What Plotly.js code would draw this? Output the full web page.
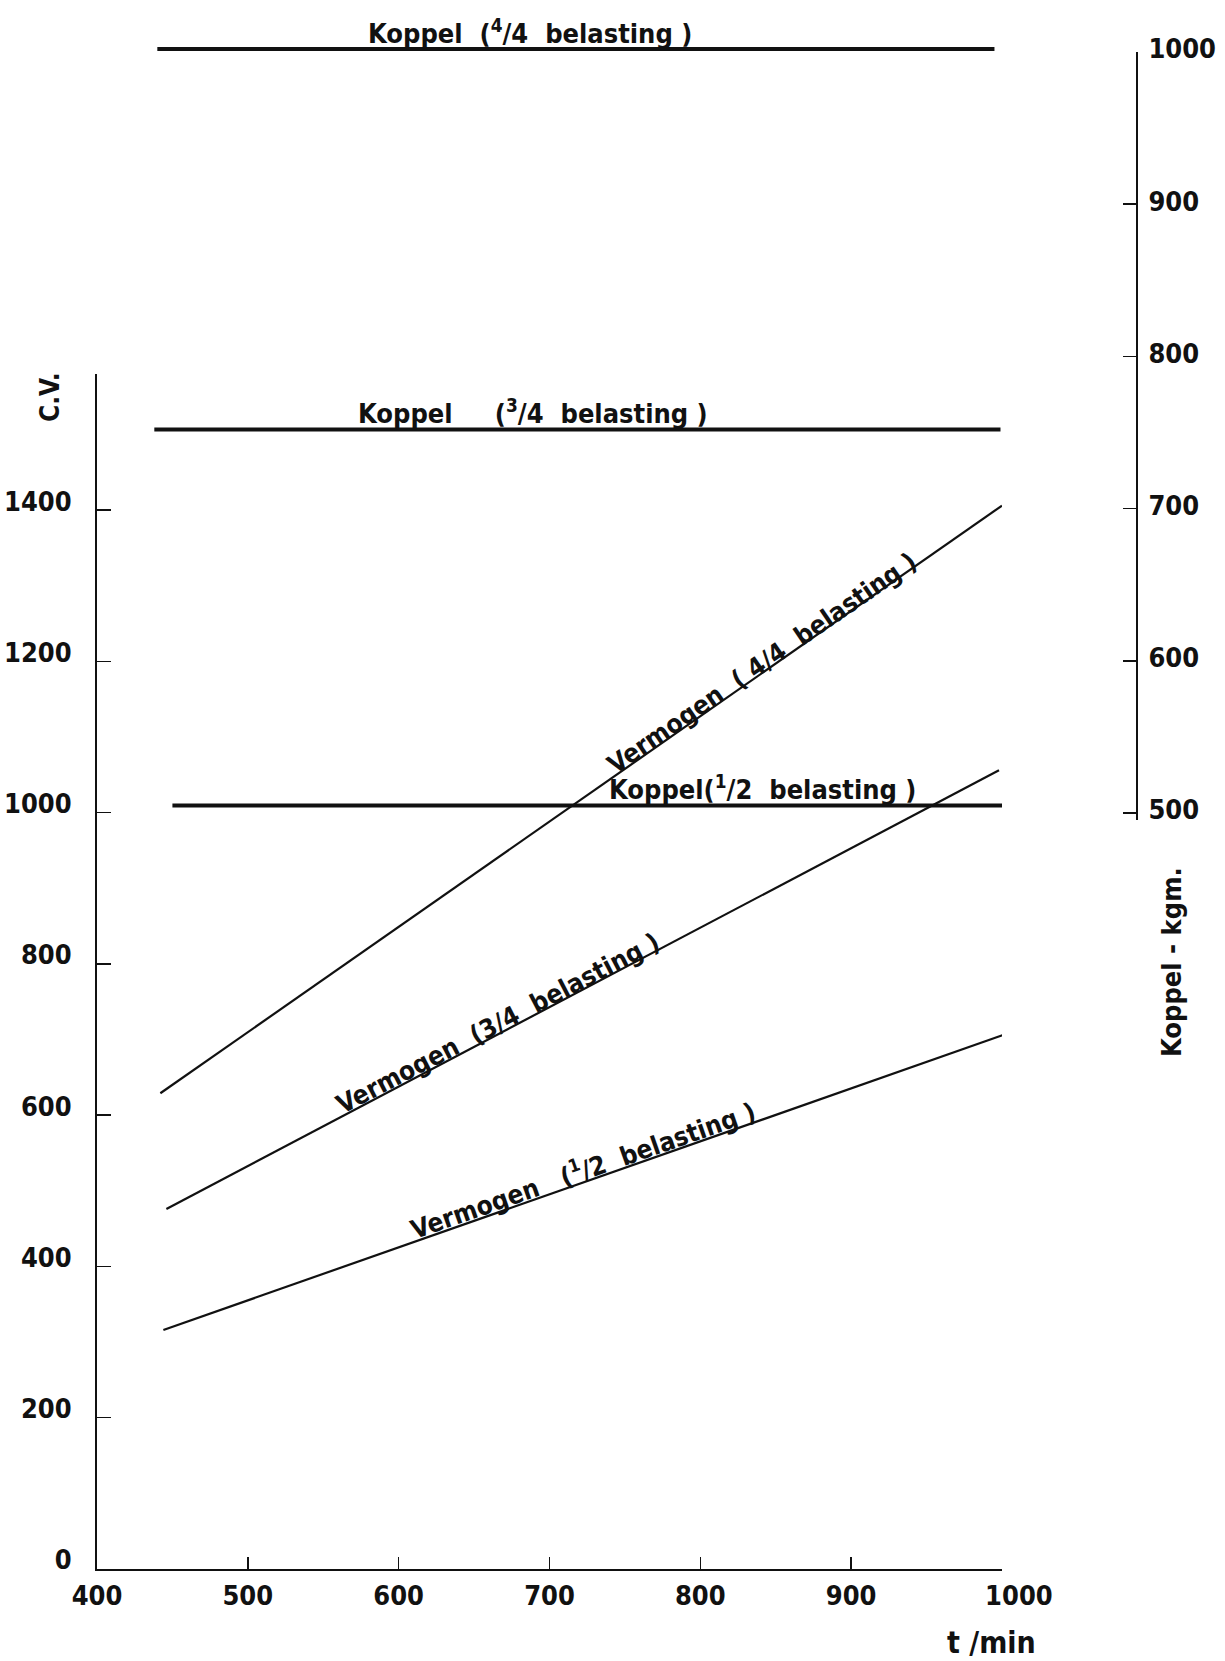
<!DOCTYPE html>
<html><head><meta charset="utf-8">
<script src="https://cdn.plot.ly/plotly-3.0.1.min.js"></script>
<style>html,body{margin:0;padding:0;background:#fff;} #chart{width:1225px;height:1661px;}</style>
</head><body><div id="chart"></div>
<script>
// ---- data ----
const rpmTicks = [400, 500, 600, 700, 800, 900, 1000];
const cvTicks = [0, 200, 400, 600, 800, 1000, 1200, 1400];
const kgmTicks = [500, 600, 700, 800, 900, 1000];

// Koppel (torque, kgm) – right scale
const koppel44Rpm = [440, 995];
const koppel44Kgm = [1002, 1002];
const koppel34Rpm = [438, 999];
const koppel34Kgm = [752, 752];
const koppel12Rpm = [450, 1000];
const koppel12Kgm = [505, 505];

// Vermogen (power, C.V.) – left scale
const verm44Rpm = [442, 1000];
const verm44Cv = [629, 1406];
const verm34Rpm = [446, 998];
const verm34Cv = [476, 1056];
const verm12Rpm = [444, 1005];
const verm12Cv = [316, 709];

// ---- geometry (pixels of the 1225x1661 page) ----
const W = 1225, H = 1661;
const L = 97, R = 1137, T = 40, B = 1569;
const pw = R - L, ph = B - T;
const px2x = p => (p - L) / pw;
const px2y = p => (B - p) / ph;

const FONT = '"DejaVu Sans Condensed", "DejaVu Sans", sans-serif';
const INK = '#111111';

const traces = [
  {x: verm44Rpm, y: verm44Cv, xaxis: 'x', yaxis: 'y', mode: 'lines', line: {color: INK, width: 2.2}},
  {x: verm34Rpm, y: verm34Cv, xaxis: 'x', yaxis: 'y', mode: 'lines', line: {color: INK, width: 2.2}},
  {x: verm12Rpm, y: verm12Cv, xaxis: 'x', yaxis: 'y', mode: 'lines', line: {color: INK, width: 2.2}},
  {x: koppel44Rpm, y: koppel44Kgm, xaxis: 'x', yaxis: 'y3', mode: 'lines', line: {color: INK, width: 4}},
  {x: koppel34Rpm, y: koppel34Kgm, xaxis: 'x', yaxis: 'y3', mode: 'lines', line: {color: INK, width: 4}},
  {x: koppel12Rpm, y: koppel12Kgm, xaxis: 'x', yaxis: 'y3', mode: 'lines', line: {color: INK, width: 4}},
  // keeps the right-hand kgm scale alive (invisible)
  {x: [rpmTicks[0]], y: [kgmTicks[0]], xaxis: 'x', yaxis: 'y2', mode: 'markers', marker: {opacity: 0}, hoverinfo: 'skip'}
];

const tickFont = {family: FONT, size: 27, color: INK, weight: 700};
const koppelFont = {family: FONT, size: 27, color: INK, weight: 700};
const vermFont = {family: FONT, size: 26, color: INK, weight: 700};

// the hand-lettered "1000" under the x axis sits a little right of its tick
const rpmText = rpmTicks.map((v, i) => i === rpmTicks.length - 1 ? '\u2007\u2007' + v : String(v));

const layout = {
  width: W, height: H,
  margin: {l: L, r: W - R, t: T, b: H - B, pad: 0},
  paper_bgcolor: '#ffffff', plot_bgcolor: 'rgba(0,0,0,0)',
  showlegend: false,
  xaxis: {
    domain: [0, (1002 - L) / pw], range: [400, 1000],
    tickmode: 'array', tickvals: rpmTicks, ticktext: rpmText,
    ticks: 'inside', ticklen: 12, tickwidth: 1.5, tickcolor: INK,
    showline: true, linewidth: 2, linecolor: INK, showgrid: false, zeroline: false,
    tickfont: tickFont, ticklabelstandoff: 2, fixedrange: true
  },
  yaxis: {
    domain: [0, (B - 374) / ph], range: [0, 1580],
    tickmode: 'array', tickvals: cvTicks, ticktext: cvTicks.map(String),
    ticks: 'inside', ticklen: 14, tickwidth: 1.5, tickcolor: INK,
    showline: true, linewidth: 2, linecolor: INK, showgrid: false, zeroline: false,
    tickfont: tickFont, ticklabelshift: -9, ticklabelstandoff: 18, fixedrange: true
  },
  yaxis2: {
    domain: [px2y(820), px2y(52)], range: [495.4, 1000],
    anchor: 'free', position: 1, side: 'right',
    tickmode: 'array', tickvals: kgmTicks, ticktext: kgmTicks.map(String),
    ticks: 'inside', ticklen: 13, tickwidth: 1.5, tickcolor: INK,
    showline: true, linewidth: 2, linecolor: INK, showgrid: false, zeroline: false,
    tickfont: tickFont, ticklabelshift: -3, ticklabelstandoff: 5, fixedrange: true
  },
  yaxis3: {
    domain: [0, 1], range: [3.3, 1007.9], anchor: 'x', visible: false, fixedrange: true
  },
  annotations: [
    {text: 'Koppel\u00a0 (<sup>4</sup>/4\u00a0 belasting\u00a0)', xref: 'x', yref: 'y3', x: 687, y: koppel44Kgm[0],
     yanchor: 'bottom', xanchor: 'center', yshift: -2, showarrow: false, font: koppelFont},
    {text: 'Koppel\u00a0\u00a0\u00a0\u00a0 (<sup>3</sup>/4\u00a0 belasting\u00a0)', xref: 'x', yref: 'y3', x: 689, y: koppel34Kgm[0],
     yanchor: 'bottom', xanchor: 'center', yshift: -2, showarrow: false, font: koppelFont},
    {text: 'Koppel(<sup>1</sup>/2\u00a0 belasting\u00a0)', xref: 'x', yref: 'y3', x: 841, y: koppel12Kgm[0],
     yanchor: 'bottom', xanchor: 'center', yshift: -2, showarrow: false, font: koppelFont},
    {text: 'Vermogen\u00a0 (\u00a04/4\u00a0 belasting\u00a0)', xref: 'x', yref: 'y', x: 841, y: 1198,
     xanchor: 'center', yanchor: 'middle', textangle: -34.5, showarrow: false, font: vermFont},
    {text: 'Vermogen\u00a0 (3/4\u00a0 belasting\u00a0)', xref: 'x', yref: 'y', x: 666, y: 722,
     xanchor: 'center', yanchor: 'middle', textangle: -27.5, showarrow: false, font: vermFont},
    {text: 'Vermogen\u00a0\u00a0 (<sup>1</sup>/2\u00a0 belasting\u00a0)', xref: 'x', yref: 'y', x: 722, y: 529,
     xanchor: 'center', yanchor: 'middle', textangle: -19.3, showarrow: false, font: vermFont},
    {text: 'C.V.', xref: 'paper', yref: 'paper', x: px2x(50), y: px2y(397),
     xanchor: 'center', yanchor: 'middle', textangle: -90, showarrow: false,
     font: {family: FONT, size: 26, color: INK, weight: 700}},
    {text: 'Koppel - kgm.', xref: 'paper', yref: 'paper', x: px2x(1171), y: px2y(962),
     xanchor: 'center', yanchor: 'middle', textangle: -90, showarrow: false,
     font: {family: FONT, size: 27, color: INK, weight: 700}},
    {text: 't /min', xref: 'paper', yref: 'paper', x: px2x(991), y: px2y(1642),
     xanchor: 'center', yanchor: 'middle', showarrow: false,
     font: {family: FONT, size: 30, color: INK, weight: 700}}
  ]
};

Plotly.newPlot('chart', traces, layout, {staticPlot: true, displayModeBar: false});
</script>
</body></html>
